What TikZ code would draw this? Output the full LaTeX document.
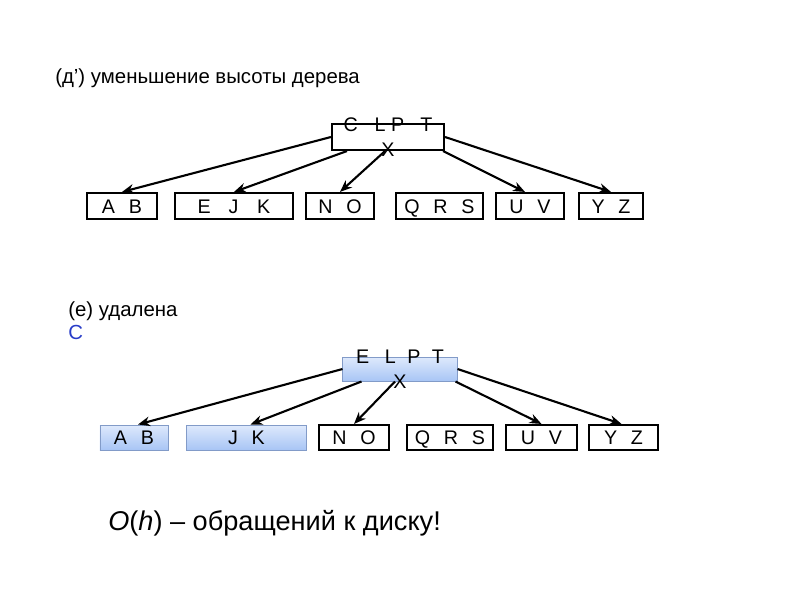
\documentclass[tikz,border=0pt]{standalone}
\usepackage{fontspec}
\setmainfont{Liberation Sans}
\usetikzlibrary{arrows.meta, positioning, calc}
\definecolor{keyblue}{RGB}{40, 60, 200}
\definecolor{fillhi}{RGB}{222, 233, 252}
\definecolor{filllo}{RGB}{168, 197, 245}
\definecolor{edgeblue}{RGB}{130, 155, 200}
\newcommand{\kgap}{\hspace{0.7em}}

\begin{document}
\begin{tikzpicture}[x=0.025cm, y=-0.025cm,
  keybox/.style={draw, line width=1.5pt, minimum height=0.65cm, inner sep=0pt,
                 text height=10pt, text depth=0pt, font=\fontsize{14}{16}\selectfont},
  newbox/.style={keybox, draw=edgeblue, line width=0.7pt, top color=fillhi, bottom color=filllo},
  keytext/.style={align=center, inner sep=0pt, font=\fontsize{14}{18}\selectfont},
  caption/.style={anchor=west, inner sep=0pt, font=\fontsize{14.5}{16.5}\selectfont},
  link/.style={-{Stealth[length=3mm, width=2.4mm]}, line width=1.5pt}
]
  \useasboundingbox (0,0) rectangle (800,600);

  % (d') shrink the height of the tree
  \node[caption] (titletop) at (55,78) {(д’) уменьшение высоты дерева};

  \node[keybox, minimum width=2.8cm] (root) at (388,137) {};
  \node[keytext] (rootkeys) at (root) {C\hspace{12pt}L\hspace{4pt}P\hspace{11.5pt}T\\X};

  \node[keybox, minimum width=1.75cm]  (ab)  at (122,206) {A\kgap B};
  \node[keybox, minimum width=2.95cm]  (ejk) at (234,206) {E\hspace{0.9em}J\hspace{0.95em}K};
  \node[keybox, minimum width=1.7cm]   (no)  at (340,206) {N\kgap O};
  \node[keybox, minimum width=2.175cm] (qrs) at (439.5,206) {Q\kgap R\kgap S};
  \node[keybox, minimum width=1.7cm]   (uv)  at (530,206) {U\kgap V};
  \node[keybox, minimum width=1.6cm]   (yz)  at (611,206) {Y\kgap Z};

  \draw[link] (root.west) -- (ab.north);
  \draw[link] ([xshift=0.4cm]root.south west) -- (ejk.north);
  \draw[link] ([xshift=-0.075cm]root.south) -- (no.north);
  \draw[link] ([xshift=-0.05cm]root.south east) -- ([xshift=-0.125cm]uv.north);
  \draw[link] (root.east) -- (yz.north);

  % (e) C removed
  \node[caption, anchor=north west, align=left] (titlebot) at (68,301)
    {(е) удалена\\\textcolor{keyblue}{C}};

  \node[newbox, minimum width=2.85cm, minimum height=0.6cm] (rootb) at (400,369) {};
  \node[keytext] (rootbkeys) at (rootb) {E\hspace{11pt}L\hspace{8.3pt}P\hspace{8pt}T\\X};

  \node[newbox, minimum width=1.7cm, minimum height=0.625cm]  (abb)  at (134,437.5) {A\kgap B};
  \node[newbox, minimum width=2.975cm, minimum height=0.625cm] (jkb)  at (246.5,437.5) {J\kgap K};
  \node[keybox, minimum width=1.75cm, minimum height=0.625cm]  (nob)  at (354,437.5) {N\kgap O};
  \node[keybox, minimum width=2.15cm, minimum height=0.625cm]  (qrsb) at (450,437.5) {Q\kgap R\kgap S};
  \node[keybox, minimum width=1.775cm, minimum height=0.625cm] (uvb)  at (541.5,437.5) {U\kgap V};
  \node[keybox, minimum width=1.725cm, minimum height=0.625cm] (yzb)  at (623.5,437.5) {Y\kgap Z};

  \draw[link] (rootb.west) -- ([xshift=0.1cm]abb.north);
  \draw[link] ([xshift=0.475cm]rootb.south west) -- ([xshift=0.1cm]jkb.north);
  \draw[link] ([xshift=-0.125cm]rootb.south) -- (nob.north);
  \draw[link] ([xshift=-0.05cm]rootb.south east) -- (uvb.north);
  \draw[link] (rootb.east) -- ([xshift=-0.05cm]yzb.north);

  \node[caption, font=\fontsize{19.3}{22}\selectfont] (cost) at (108,523)
    {\textit{O}(\textit{h}) – обращений к диску!};
\end{tikzpicture}
\end{document}
